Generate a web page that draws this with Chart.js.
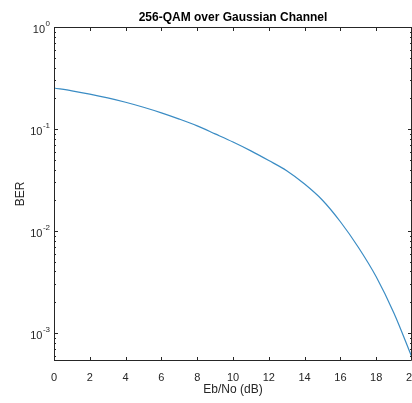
<!DOCTYPE html>
<html>
<head>
<meta charset="utf-8">
<script src="https://cdn.jsdelivr.net/npm/chart.js@4"></script>
<style>
  html, body { margin: 0; padding: 0; background: #fff; }
  canvas { display: block; }
</style>
</head>
<body>
<canvas id="ber-chart" width="412" height="403"></canvas>
<script>
// 読み取った値 (Eb/No [dB] と BER)
const ebno = [0, 1, 2, 3, 4, 5, 6, 7, 8, 9, 10, 11, 12, 13, 14, 15, 16, 17, 18, 19, 20];
const ber = [0.2523, 0.2366, 0.2198, 0.2018, 0.1828, 0.1633, 0.1439, 0.1250, 0.1072, 0.0895, 0.0745,
             0.0610, 0.0490, 0.0389, 0.0288, 0.0200, 0.0123, 0.00692, 0.00355, 0.00155, 0.000575];
const xTickStep = 2;
const yMin = 5.3e-4;
const yMax = 1;

const axisColor = '#262626';
const fontFamily = "'Liberation Sans', Arial, Helvetica, sans-serif";

// 枠線・内向きの目盛り・10^n ラベルを描く
const matlabAxes = {
    id: 'matlabAxes',
    afterDraw(chart) {
        const { ctx, chartArea: a, scales } = chart;
        const xs = scales.x, ys = scales.y;
        ctx.save();
        ctx.strokeStyle = axisColor;
        ctx.lineWidth = 1;
        ctx.beginPath();
        ctx.rect(a.left + 0.5, a.top + 0.5, a.right - a.left - 1, a.bottom - a.top - 1);
        ctx.stroke();

        // x の目盛り (上下)
        ctx.beginPath();
        xs.ticks.forEach(t => {
            const px = Math.round(xs.getPixelForValue(t.value)) + 0.5;
            ctx.moveTo(px, a.bottom); ctx.lineTo(px, a.bottom - 4);
            ctx.moveTo(px, a.top); ctx.lineTo(px, a.top + 4);
        });
        ctx.stroke();

        // y の目盛り (左右, 補助目盛り付き)
        ctx.beginPath();
        const majors = [];
        ys.ticks.forEach(t => {
            const e = Math.floor(Math.log10(t.value) + 1e-9);
            const m = t.value / Math.pow(10, e);
            if (Math.abs(m - Math.round(m)) > 1e-6) return;
            const major = Math.round(m) === 1;
            const len = major ? 4 : 2;
            const py = Math.round(ys.getPixelForValue(t.value)) + 0.5;
            ctx.moveTo(a.left, py); ctx.lineTo(a.left + len, py);
            ctx.moveTo(a.right, py); ctx.lineTo(a.right - len, py);
            if (major) majors.push({ e, py });
        });
        ctx.stroke();

        // 10^n ラベル
        ctx.fillStyle = axisColor;
        ctx.textBaseline = 'middle';
        majors.forEach(({ e, py }) => {
            const expText = String(e);
            ctx.font = '8px ' + fontFamily;
            const expW = ctx.measureText(expText).width;
            const right = a.left - 4;
            ctx.textAlign = 'left';
            ctx.fillText(expText, right - expW, py - 4);
            ctx.font = '11px ' + fontFamily;
            ctx.textAlign = 'right';
            ctx.fillText('10', right - expW - 0.5, py + 2);
        });
        ctx.restore();
    }
};

const ctx = document.getElementById('ber-chart').getContext('2d');
const chart = new Chart(ctx, {
    type: 'line',
    data: {
        datasets: [{
            label: 'BER',
            data: ebno.map((x, i) => ({ x, y: ber[i] })),
            borderColor: '#3a8cc4',
            borderWidth: 1.2,
            pointRadius: 0,
            fill: false,
            cubicInterpolationMode: 'monotone'
        }]
    },
    options: {
        responsive: false,
        animation: false,
        layout: { padding: 0 },
        scales: {
            x: {
                type: 'linear',
                min: 0,
                max: 20,
                grid: { display: false, drawTicks: false },
                border: { display: false },
                ticks: {
                    stepSize: xTickStep,
                    padding: 10,
                    color: axisColor,
                    font: { size: 11, family: fontFamily },
                    maxRotation: 0
                },
                title: {
                    display: true,
                    text: 'Eb/No (dB)',
                    color: axisColor,
                    font: { size: 12, family: fontFamily },
                    padding: { top: 0, bottom: 6 }
                },
                afterFit(scale) {
                    scale.height = 42;
                    scale.paddingLeft = 0;
                    scale.paddingRight = 0;
                }
            },
            y: {
                type: 'logarithmic',
                min: yMin,
                max: yMax,
                grid: { display: false, drawTicks: false },
                border: { display: false },
                ticks: { display: false, autoSkip: false },
                title: {
                    display: true,
                    text: 'BER',
                    color: axisColor,
                    font: { size: 12, family: fontFamily },
                    padding: { top: 13, bottom: 0 }
                },
                afterFit(scale) {
                    scale.width = 54;
                }
            }
        },
        plugins: {
            legend: { display: false },
            tooltip: { enabled: false },
            title: {
                display: true,
                text: '256-QAM over Gaussian Channel',
                fullSize: false,
                color: '#000',
                font: { size: 12, weight: 'bold', family: fontFamily },
                padding: { top: 10, bottom: 2.6 }
            }
        }
    },
    plugins: [matlabAxes]
});
</script>
</body>
</html>
